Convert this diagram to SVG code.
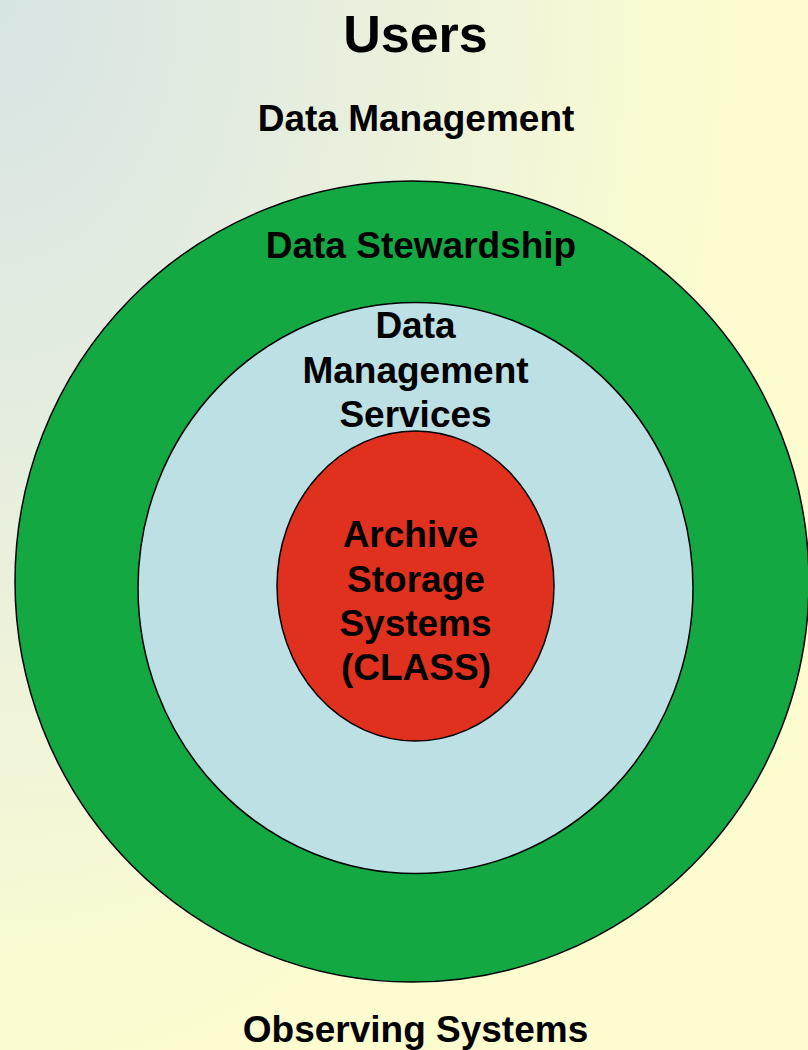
<svg xmlns="http://www.w3.org/2000/svg" width="808" height="1050" viewBox="0 0 808 1050">
  <defs>
    <radialGradient id="bg" cx="0" cy="0" r="1" gradientUnits="userSpaceOnUse" gradientTransform="matrix(780 0 0 1150 0 0)">
      <stop offset="0" stop-color="#d6e4e4"/>
      <stop offset="0.5" stop-color="#eaf0dc"/>
      <stop offset="0.85" stop-color="#fafbd2"/>
      <stop offset="1" stop-color="#fdfccf"/>
    </radialGradient>
  </defs>
  <style>
    .lbl { font-family: "Liberation Sans", Arial, sans-serif; font-weight: bold; fill: #000; text-anchor: middle; font-size: 37px; }
    .ring { stroke: #000; stroke-width: 1.5; }
  </style>
  <rect x="0" y="0" width="808" height="1050" fill="url(#bg)"/>
  <g id="users"><text class="lbl" x="415.5" y="52" style="font-size:52px">Users</text></g>
  <g id="data-management"><text class="lbl" x="416" y="131">Data Management</text></g>
  <g id="data-stewardship">
    <ellipse class="ring" cx="412" cy="581.5" rx="397" ry="400.5" fill="#14a843"/>
    <text class="lbl" x="421" y="258">Data Stewardship</text>
  </g>
  <g id="data-management-services">
    <ellipse class="ring" cx="415.5" cy="588" rx="277.5" ry="285.5" fill="#bce0e4"/>
    <text class="lbl" x="415.5" y="338">Data</text>
    <text class="lbl" x="415.5" y="383">Management</text>
    <text class="lbl" x="415.5" y="427">Services</text>
  </g>
  <g id="archive-storage">
    <ellipse class="ring" cx="415.5" cy="586" rx="138.5" ry="155" fill="#e0301e"/>
    <text class="lbl" x="410.5" y="547">Archive</text>
    <text class="lbl" x="416" y="592">Storage</text>
    <text class="lbl" x="415.5" y="636">Systems</text>
    <text class="lbl" x="416" y="680">(CLASS)</text>
  </g>
  <g id="observing-systems"><text class="lbl" x="415.5" y="1042">Observing Systems</text></g>
  <g id="connectors"/>
</svg>
